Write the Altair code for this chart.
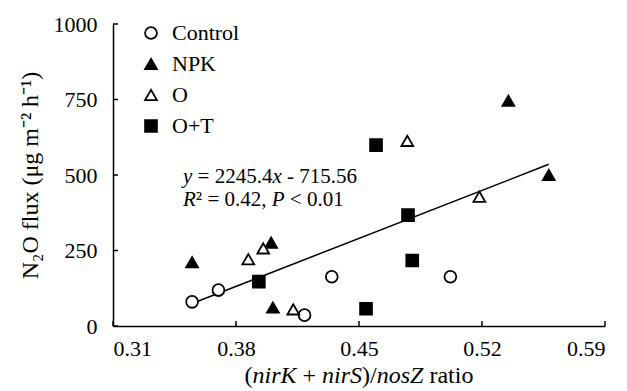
import altair as alt
import pandas as pd

# ---------------- data ----------------
groups = ["Control", "NPK", "O", "O+T"]
control_x = [0.355, 0.370, 0.419, 0.4345, 0.502]
control_y = [80, 119, 36, 163, 163]
npk_x = [0.355, 0.400, 0.401, 0.535, 0.558]
npk_y = [211, 276, 61, 746, 500]
o_x = [0.387, 0.3955, 0.4126, 0.4775, 0.5185]
o_y = [221, 257, 55, 613, 428]
ot_x = [0.393, 0.454, 0.4597, 0.4779, 0.4803]
ot_y = [147, 57, 599, 367, 217]
x_ticks = [0.31, 0.38, 0.45, 0.52, 0.59]
y_ticks = [0, 250, 500, 750, 1000]

rows = []
for g, xs_, ys_ in zip(groups, [control_x, npk_x, o_x, ot_x], [control_y, npk_y, o_y, ot_y]):
    for a, b in zip(xs_, ys_):
        rows.append({"group": g, "x": a, "y": b})
df = pd.DataFrame(rows)

# ---------------- layout / style ----------------
W, H = 492, 302
FONT = "Liberation Serif, Times New Roman, serif"
FS = 22
TITLE_FS = 24
EQ_FS = 21

xs = alt.Scale(domain=[0.31, 0.59], nice=False, zero=False)
ys = alt.Scale(domain=[0, 1000], nice=False, zero=False)

x_axis = alt.Axis(values=x_ticks, format=".2f", ticks=False, grid=False,
                  labelPadding=12, labelFontSize=FS, labelFont=FONT,
                  labelColor="black", domainColor="black", domainWidth=1.5,
                  title=None)
y_axis = alt.Axis(values=y_ticks, format="d", ticks=False, grid=False,
                  labelPadding=16, labelFontSize=FS, labelFont=FONT,
                  labelColor="black", domainColor="black", domainWidth=1.5,
                  title="N₂O flux (μg m⁻² h⁻¹)", titleFont=FONT,
                  titleFontSize=TITLE_FS, titleFontWeight="normal",
                  titleColor="black", titlePadding=11)

leg = alt.Legend(title=None, orient="none", legendX=27, legendY=-2,
                 labelFontSize=FS, labelFont=FONT, labelColor="black",
                 symbolSize=140, symbolStrokeWidth=1.8, symbolStrokeColor="black",
                 symbolOpacity=1, rowPadding=9, labelOffset=10, padding=0)

reg = alt.Chart(df).transform_regression("x", "y").mark_line(
    color="black", strokeWidth=1.5).encode(
    x=alt.X("x:Q", scale=xs, axis=x_axis),
    y=alt.Y("y:Q", scale=ys, axis=y_axis),
)

points = alt.Chart(df).mark_point(filled=True, size=140, strokeWidth=1.8,
                                  opacity=1).encode(
    x=alt.X("x:Q", scale=xs, axis=x_axis),
    y=alt.Y("y:Q", scale=ys, axis=y_axis),
    shape=alt.Shape("group:N", scale=alt.Scale(domain=groups,
                    range=["circle", "triangle-up", "triangle-up", "square"]), legend=leg),
    fill=alt.Fill("group:N", scale=alt.Scale(domain=groups,
                  range=["white", "black", "white", "black"]), legend=leg),
    stroke=alt.Stroke("group:N", scale=alt.Scale(domain=groups,
                      range=["black", "black", "black", "black"]), legend=leg),
)

xt = alt.Chart(pd.DataFrame({"x": x_ticks})).mark_rule(color="black", strokeWidth=1.5).encode(
    x=alt.X("x:Q", scale=xs, axis=x_axis), y=alt.value(H), y2=alt.value(H - 5))
yt = alt.Chart(pd.DataFrame({"y": y_ticks})).mark_rule(color="black", strokeWidth=1.5).encode(
    y=alt.Y("y:Q", scale=ys, axis=y_axis), x=alt.value(0), x2=alt.value(5))

# ---------------- rich text (italic segments) ----------------
ROMAN = {" ": 250, "(": 333, ")": 333, "/": 278, "+": 564, "=": 564, "-": 333,
         "<": 564, ",": 250, ".": 250, "r": 333, "a": 444, "t": 278, "i": 278,
         "o": 500, "²": 300}
ITALIC = {"n": 500, "i": 278, "r": 389, "K": 667, "S": 500, "o": 500, "s": 389,
          "Z": 556, "y": 444, "x": 444, "R": 611, "P": 611, " ": 250}


def seg_width(text, italic, fs):
    tbl = ITALIC if italic else ROMAN
    return sum(tbl.get(c, 500) for c in text) * fs / 1000.0


def rich_text(segments, x0, y0, fs, center=False):
    total = sum(seg_width(t, it, fs) for t, it in segments)
    x = x0 - total / 2 if center else x0
    layers = []
    for t, it in segments:
        lead = len(t) - len(t.lstrip(" "))
        body = t.strip(" ")
        if body:
            layers.append(alt.Chart(pd.DataFrame({"t": [body]})).mark_text(
                align="left", baseline="alphabetic", font=FONT, fontSize=fs,
                fontStyle="italic" if it else "normal", color="black").encode(
                x=alt.value(x + lead * 250 * fs / 1000.0), y=alt.value(y0), text="t:N"))
        x += seg_width(t, it, fs)
    return layers


xtitle = rich_text([("(", False), ("nirK", True), (" + ", False), ("nirS", True),
                    (")/", False), ("nosZ", True), (" ratio", False)],
                   W / 2, 359, TITLE_FS, center=True)
eq1 = rich_text([("y", True), (" = 2245.4", False), ("x", True), (" - 715.56", False)],
                70, 159, EQ_FS)
eq2 = rich_text([("R", True), ("² = 0.42, ", False), ("P", True), (" < 0.01", False)],
                70, 182, EQ_FS)

chart = alt.layer(reg, points, xt, yt, *xtitle, *eq1, *eq2).properties(
    width=W, height=H,
    autosize=alt.AutoSizeParams(type="none"),
    padding={"left": 105, "top": 16, "right": 14, "bottom": 65},
    background="white",
).configure_view(stroke=None)

chart.save("out.html", embed_options={"renderer": "svg", "actions": False})
